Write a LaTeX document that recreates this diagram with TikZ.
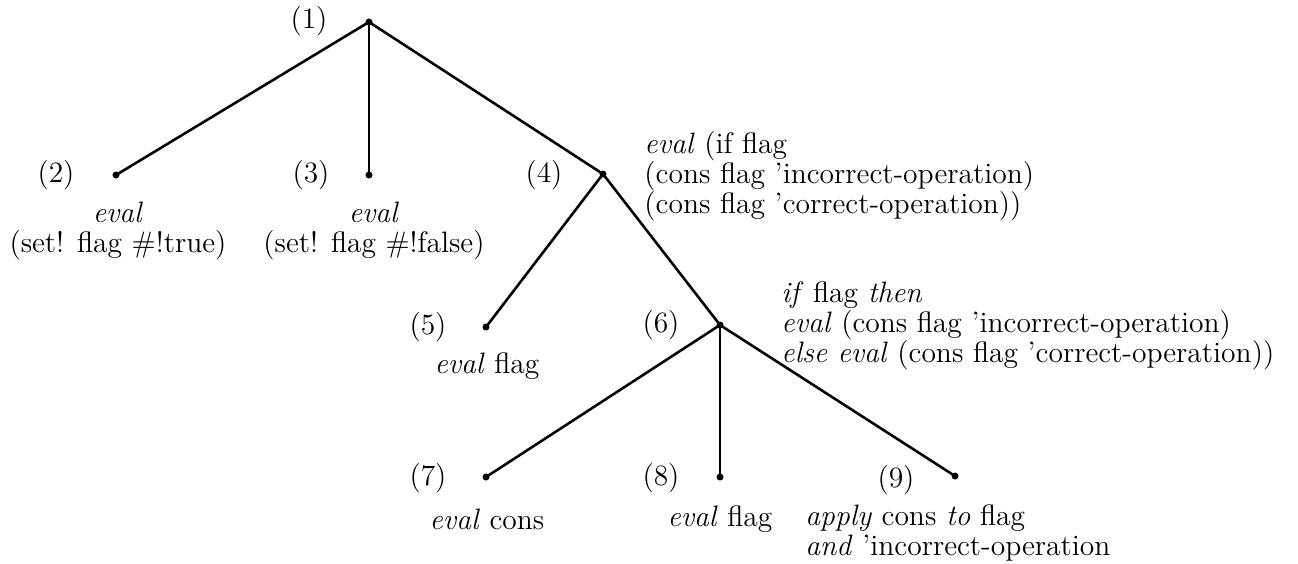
\documentclass[tikz,border=0pt]{standalone}
\begin{document}
\begin{tikzpicture}[x=0.015cm,y=-0.015cm,
  font=\fontsize{12.6}{12.8}\selectfont,
  pt/.style={circle,fill,inner sep=0pt,minimum size=3pt},
  num/.style={inner sep=0pt},
  txt/.style={inner sep=0pt,font=\fontsize{12.6}{12.8}\selectfont},
  edge/.style={line width=1.1pt}]
\useasboundingbox (0,0) rectangle (1298,563);

\node[pt] (n1) at (369,22) {};
\node[pt] (n2) at (116,175) {};
\node[pt] (n3) at (369,175) {};
\node[pt] (n4) at (603,174) {};
\node[pt] (n5) at (486,327) {};
\node[pt] (n6) at (720,325) {};
\node[pt] (n7) at (486,477) {};
\node[pt] (n8) at (720,477) {};
\node[pt] (n9) at (955,476) {};

\draw[edge] (n2.center) -- (n1.center) -- (n4.center);
\draw[edge] (n1.center) -- (n3.center);
\draw[edge] (n5.center) -- (n4.center) -- (n6.center);
\draw[edge] (n7.center) -- (n6.center) -- (n9.center);
\draw[edge] (n6.center) -- (n8.center);

\node[num] (l1) at (309,21) {(1)};
\node[num] (l2) at (56,175) {(2)};
\node[num] (l3) at (311,175) {(3)};
\node[num] (l4) at (544,175) {(4)};
\node[num] (l5) at (428,327) {(5)};
\node[num] (l6) at (661,325) {(6)};
\node[num] (l7) at (428,478) {(7)};
\node[num] (l8) at (661,478) {(8)};
\node[num] (l9) at (896,480) {(9)};

\node[txt,align=center] (t2) at (118,231) {\textit{eval}\\(set! flag \#!true)};
\node[txt,align=center] (t3) at (374,231) {\textit{eval}\\(set! flag \#!false)};
\node[txt,align=left,anchor=west] (t4) at (644,176) {\textit{eval} (if flag\\(cons flag 'incorrect-operation)\\(cons flag 'correct-operation))};
\node[txt] (t5) at (487,366) {\textit{eval} flag};
\node[txt,align=left,anchor=west] (t6) at (781,326) {\textit{if} flag \textit{then}\\\textit{eval} (cons flag 'incorrect-operation)\\\textit{else eval} (cons flag 'correct-operation))};
\node[txt] (t7) at (487,519) {\textit{eval} cons};
\node[txt] (t8) at (720,519) {\textit{eval} flag};
\node[txt,align=left,anchor=west] (t9) at (805,533) {\textit{apply} cons \textit{to} flag\\\textit{and} 'incorrect-operation};
\end{tikzpicture}
\end{document}
